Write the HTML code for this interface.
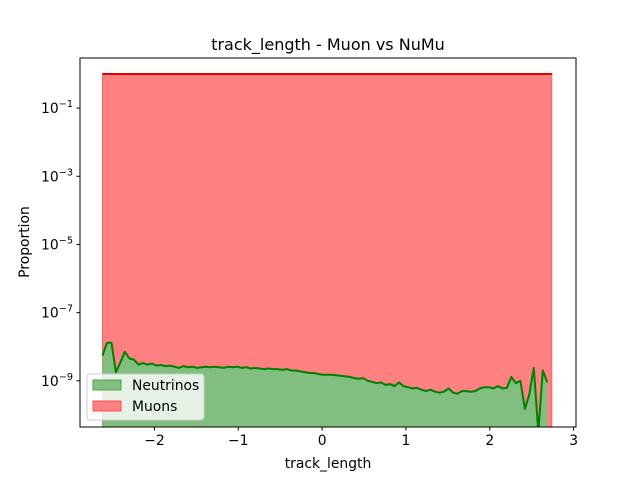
<!DOCTYPE html>
<html><head><meta charset="utf-8"><style>
body{margin:0;background:#fff;}
svg text{font-family:"DejaVu Sans","Liberation Sans",sans-serif;fill:#000;}
</style></head><body>
<svg id="chart" width="640" height="480" xmlns="http://www.w3.org/2000/svg">
<rect width="640" height="480" fill="#fff"/>
<text x="328" y="50" font-size="16" text-anchor="middle">track_length - Muon vs NuMu</text>
<g id="plot"></g>
<text x="328" y="468" font-size="13.9" text-anchor="middle">track_length</text>
<text x="0" y="0" font-size="13.9" text-anchor="middle" transform="translate(29,242) rotate(-90)">Proportion</text>
</svg>
<script>
const binStart = -2.62;
const binWidth = 0.0536;
const neutrinoValues = [5.5e-9,1.3e-8,1.3e-8,1.8e-9,3.5e-9,7.1e-9,4.5e-9,4.2e-9,3.0e-9,3.3e-9,3.0e-9,3.2e-9,2.8e-9,
2.9e-9,2.7e-9,2.8e-9,2.6e-9,2.4e-9,2.7e-9,2.5e-9,2.6e-9,2.4e-9,2.5e-9,2.6e-9,2.5e-9,2.6e-9,2.5e-9,2.4e-9,2.6e-9,2.5e-9,2.6e-9,
2.4e-9,2.5e-9,2.3e-9,2.4e-9,2.3e-9,2.2e-9,2.3e-9,2.2e-9,2.2e-9,2.1e-9,2.2e-9,2.0e-9,2.0e-9,1.9e-9,1.8e-9,1.7e-9,1.7e-9,1.6e-9,
1.5e-9,1.5e-9,1.5e-9,1.45e-9,1.4e-9,1.35e-9,1.3e-9,1.2e-9,1.15e-9,1.2e-9,1.0e-9,0.93e-9,
0.85e-9,0.9e-9,0.76e-9,0.8e-9,0.7e-9,0.9e-9,0.7e-9,0.65e-9,0.6e-9,0.62e-9,0.55e-9,0.5e-9,0.55e-9,0.48e-9,0.45e-9,0.48e-9,0.6e-9,0.45e-9,0.42e-9,0.5e-9,
0.5e-9,0.48e-9,0.5e-9,0.6e-9,0.65e-9,0.65e-9,0.6e-9,0.7e-9,0.6e-9,0.62e-9,
1.3e-9,0.85e-9,1.0e-9,1.5e-10,4e-10,2.4e-9,0,2.0e-9,9e-10];
const muonEdges = [-2.62, 2.74];
const muonValues = [1.0];
const xTicks = [-2,-1,0,1,2,3];
const yTickExps = [-1,-3,-5,-7,-9];

const L=80,R=576,T=58,B=427;
const X0=-2.888, X1=3.0285;
const LOGMIN=-10.355, LOGMAX=0.47;
const xs=v=>L+(v-X0)/(X1-X0)*(R-L);
const ys=v=>{ if(v<=0) return B+5; return B-(Math.log10(v)-LOGMIN)/(LOGMAX-LOGMIN)*(B-T); };
const NS="http://www.w3.org/2000/svg";
const plot=document.getElementById('plot');
function mk(tag,attrs,parent){const e=document.createElementNS(NS,tag);for(const k in attrs)e.setAttribute(k,attrs[k]);(parent||plot).appendChild(e);return e;}

const defs=mk('defs',{});
const cp=mk('clipPath',{id:'clip'},defs);
mk('rect',{x:L,y:T,width:R-L,height:B-T},cp);
const g=mk('g',{'clip-path':'url(#clip)'});

const mx0=xs(muonEdges[0]), mx1=xs(muonEdges[1]), my=ys(muonValues[0]);
const mf=mk('path',{d:`M${mx0},${B+5}L${mx0},${my}L${mx1},${my}L${mx1},${B+5}Z`,fill:'#ff8080',stroke:'#ff6060','stroke-width':1},g);


const ml=mk('line',{x1:mx0,y1:my,x2:mx1,y2:my,stroke:'#e00000','stroke-width':2},g);



let pts=neutrinoValues.map((v,i)=>[xs(binStart+i*binWidth),ys(v)]);
let d='M'+pts.map(p=>p[0].toFixed(1)+','+p[1].toFixed(1)).join('L');
const nf=mk('path',{d:d+`L${pts[pts.length-1][0]},${B+5}L${pts[0][0]},${B+5}Z`,fill:'#80bf80',stroke:'none'},g);


const nl=mk('path',{d:d,fill:'none',stroke:'#008000','stroke-width':2,'stroke-linejoin':'round'},g);



const fr=mk('rect',{x:L,y:T,width:R-L,height:B-T,fill:'none',stroke:'#000','stroke-width':1});



xTicks.forEach(t=>{
  const x=xs(t);
  const tk=mk('line',{x1:x,y1:B,x2:x,y2:B+3.5,stroke:'#000'});
  
  
  const tl=mk('text',{x:x,y:B+18,'font-size':13.9,'text-anchor':'middle'});
  tl.textContent=(t<0?'\u2212'+(-t):''+t);
  
  
});
yTickExps.forEach(e=>{
  const y=ys(Math.pow(10,e));
  const tk=mk('line',{x1:L-3.5,y1:y,x2:L,y2:y,stroke:'#000'});
  
  
  const tl=mk('text',{x:L-7,y:y+5,'font-size':13.9,'text-anchor':'end'});
  
  
  const base=document.createElementNS(NS,'tspan');base.textContent='10';tl.appendChild(base);
  const sup=document.createElementNS(NS,'tspan');sup.setAttribute('dy','-6');sup.setAttribute('font-size','9.7');sup.textContent='\u2212'+(-e);tl.appendChild(sup);
});

const lg=mk('g',{});


mk('rect',{x:87,y:374,width:117,height:46,rx:3,fill:'#ffffff','fill-opacity':0.8,stroke:'#cccccc'},lg);
const e1=mk('g',{},lg);


mk('rect',{x:93,y:380,width:28,height:10,fill:'#80bf80',stroke:'#4ca04c'},e1);
const t1=mk('text',{x:132,y:390,'font-size':13.9},e1);t1.textContent='Neutrinos';
const e2=mk('g',{},lg);


mk('rect',{x:93,y:401,width:28,height:10,fill:'#ff8080',stroke:'#ff5050'},e2);
const t2=mk('text',{x:132,y:411,'font-size':13.9},e2);t2.textContent='Muons';
</script>
</body></html>
